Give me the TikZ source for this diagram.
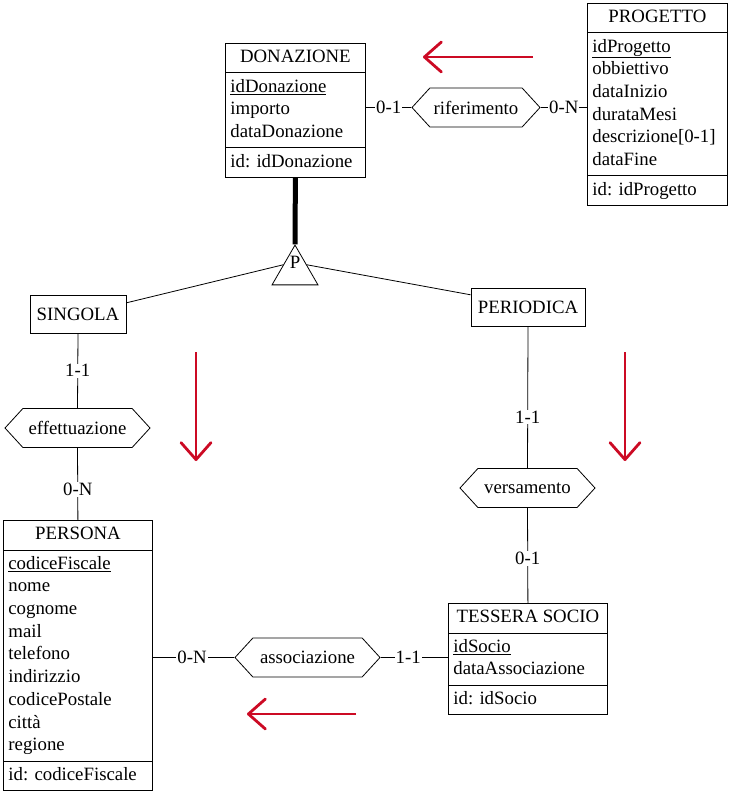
\documentclass[tikz,border=0pt]{standalone}
\usepackage{fontspec}
\setmainfont{Liberation Serif}
\usepackage{xcolor}
\usepackage{tikz}
\usetikzlibrary{positioning, arrows.meta, shapes.multipart, shapes.geometric, shapes.symbols}
\definecolor{arrowred}{RGB}{204,10,36}
\newcommand{\erfont}{\fontsize{18.8}{22.7}\selectfont}
\tikzset{
  entity/.style={
    rectangle split, rectangle split parts=3, draw, line width=0.8pt,
    rectangle split part align={center,left,left}, align=left,
    inner xsep=5pt, inner ysep=3pt, anchor=north west, font=\erfont
  },
  subentity/.style={draw, line width=0.8pt, inner sep=2pt, minimum height=38pt, font=\erfont},
  relship/.style={
    signal, signal to=west and east, signal pointer angle=95, draw,
    line width=0.8pt, minimum height=39pt, inner xsep=2pt, font=\erfont
  },
  card/.style={fill=white, inner sep=1pt, font=\erfont},
  link/.style={line width=0.8pt},
  hint/.style={draw=arrowred, line width=2.8pt, -{Straight Barb[length=17pt, width=30pt, round]}},
}

\begin{document}
\begin{tikzpicture}[x=1pt, y=-1pt]
  \useasboundingbox (0,0) rectangle (733,799);
  % entita'
  \node[entity, minimum width=140pt] (donazione) at (225,43)
    {\strut DONAZIONE\nodepart{two}\strut\underline{idDonazione}\\importo\\dataDonazione\strut
     \nodepart{three}\strut id: idDonazione};
  \node[entity, minimum width=140pt] (progetto) at (587,3)
    {\strut PROGETTO\nodepart{two}\strut\underline{idProgetto}\\obbiettivo\\dataInizio\\durataMesi\\descrizione[0-1]\\dataFine\strut
     \nodepart{three}\strut id: idProgetto};
  \node[entity, minimum width=149pt] (persona) at (3,520)
    {\strut PERSONA\nodepart{two}\strut\underline{codiceFiscale}\\nome\\cognome\\mail\\telefono\\indirizzio\\codicePostale\\città\\regione\strut
     \nodepart{three}\strut id: codiceFiscale};
  \node[entity, minimum width=159pt] (tessera) at (448,603)
    {\strut TESSERA SOCIO\nodepart{two}\strut\underline{idSocio}\\dataAssociazione\strut
     \nodepart{three}\strut id: idSocio};
  % generalizzazione
  \node[subentity, minimum width=96pt] (singola) at (78,314) {SINGOLA};
  \node[subentity, minimum width=114pt] (periodica) at (528,307) {PERIODICA};
  \node[draw, regular polygon, regular polygon sides=3, minimum size=53pt, inner sep=0pt, line width=0.8pt,
    label={[yshift=9pt, font=\erfont, inner sep=0pt]center:P}] (gen) at (295,271.6) {};
  % relazioni
  \node[relship, minimum width=128pt] (riferimento) at (476,107.5) {riferimento};
  \node[relship, minimum width=145pt] (effettuazione) at (77.5,428) {effettuazione};
  \node[relship, minimum width=135pt] (versamento) at (527.5,488) {versamento};
  \node[relship, minimum width=145pt] (associazione) at (307.5,657.5) {associazione};

  \draw[link] (donazione.east |- riferimento.west) -- node[card]{0-1} (riferimento.west);
  \draw[link] (riferimento.east) -- node[card]{0-N} (riferimento.east -| progetto.west);
  \draw[link] (singola.south) -- node[card]{1-1} (effettuazione.north);
  \draw[link] (effettuazione.south) -- node[card, pos=0.58]{0-N} (persona.north);
  \draw[link] (periodica.south) -- node[card, pos=0.64]{1-1} (versamento.north);
  \draw[link] (versamento.south) -- node[card, pos=0.53]{0-1} (tessera.north);
  \draw[link] (persona.east |- associazione.west) -- node[card, pos=0.48]{0-N} (associazione.west);
  \draw[link] (associazione.east) -- node[card, pos=0.41]{1-1} (associazione.east -| tessera.west);
  \draw[line width=5pt] (donazione.south) -- (gen.corner 1);
  \draw[link] (gen.side 1) -- (singola.13);
  \draw[link] (gen.side 3) -- (periodica.168);

  % frecce rosse
  \coordinate (top a) at (533,57);   \coordinate (top b) at (423,57);
  \coordinate (left a) at (196,352); \coordinate (left b) at (196,461);
  \coordinate (right a) at (625,352); \coordinate (right b) at (625,461);
  \coordinate (low a) at (356,714);  \coordinate (low b) at (247,714);
  \draw[hint] (top a) -- (top b);
  \draw[hint] (left a) -- (left b);
  \draw[hint] (right a) -- (right b);
  \draw[hint] (low a) -- (low b);
\end{tikzpicture}
\end{document}
